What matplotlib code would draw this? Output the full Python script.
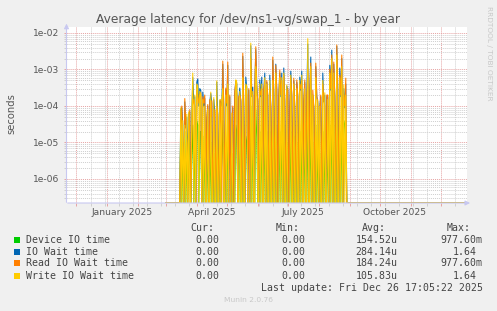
import numpy as np
import matplotlib
matplotlib.use('Agg')
import matplotlib.pyplot as plt
from matplotlib.patches import Rectangle

W, H = 497, 311

# daily averages in seconds, 16 Mar 2025 .. 29 Aug 2025 (0 = idle day)
device = [3e-5, 0, 1e-5, 0, 2e-5, 0, 8e-6, 0, 2.5e-5, 4e-6,
          0, 5e-6, 3e-5, 0, 2e-5, 0, 4e-5, 3e-5, 0, 2e-5,
          2e-5, 0, 1.5e-5, 0, 1e-5, 0, 0, 8e-6, 0, 0,
          1e-5, 0, 0, 5e-6, 0, 0, 2e-5, 0, 0, 8e-6,
          0, 5e-6, 4e-5, 0, 0, 1e-5, 0, 3e-5, 0, 0,
          0, 5e-6, 0, 0, 0, 3e-5, 2e-5, 0, 0, 4e-5,
          0, 0, 5e-5, 0, 0, 1.5e-5, 1e-5, 0, 0, 0,
          1e-4, 0, 2e-5, 0, 0, 8e-5, 1.5e-5, 0, 0, 2e-5,
          0, 2e-5, 0, 0, 3e-5, 0, 2e-5, 0, 0, 2e-5,
          0, 0, 4e-5, 0, 0, 3e-5, 0, 0, 0, 2e-5,
          0, 3e-5, 0, 3e-5, 0, 0, 1e-5, 0, 0, 0,
          2e-5, 0, 0, 1.5e-5, 0, 0, 1e-5, 0, 0, 2e-5,
          0, 2e-5, 0, 0, 1.5e-5, 0, 0, 3e-5, 0, 0,
          4e-5, 0, 1e-5, 0, 0, 3e-5, 0, 1e-5, 0, 5e-6,
          0, 0, 2e-5, 0, 1e-5, 0, 0, 1e-5, 0, 3e-5,
          0, 6e-5, 0, 3e-5, 0, 0, 8e-5, 0, 0, 2e-5,
          0, 5e-5, 0, 4e-5, 3e-5, 1e-5, 0]
iowait = [8e-5, 9e-5, 3e-5, 0, 1.3e-4, 2.5e-5, 5e-5, 3e-6, 6e-5, 7e-5,
          0, 5e-5, 6e-4, 1.3e-4, 1.8e-4, 0, 4.5e-4, 5.5e-4, 1e-4, 3e-4,
          2.7e-4, 0, 2.4e-4, 1e-4, 1.6e-4, 0, 4e-5, 1e-4, 0, 1.3e-4,
          2.2e-4, 1.2e-4, 0, 1.5e-4, 7e-5, 0, 4.5e-4, 5e-5, 0, 1.4e-4,
          1.3e-4, 1e-4, 1.4e-3, 9e-5, 0, 2.8e-4, 1e-4, 1.3e-3, 0, 1.8e-4,
          0, 4e-5, 9e-5, 0, 2.2e-4, 5e-4, 4e-4, 0, 1.6e-4, 3.1e-4,
          1.3e-4, 0, 2.3e-3, 9e-5, 0, 6.2e-4, 3e-4, 0, 2.7e-4, 0,
          4.5e-3, 1.8e-4, 3.3e-4, 0, 2.7e-4, 3.5e-3, 3.8e-4, 1.3e-4, 0, 5.2e-4,
          1.8e-4, 6.2e-4, 0, 2.7e-4, 8e-4, 0, 4.5e-4, 1.8e-4, 0, 7e-4,
          9e-5, 0, 1.8e-3, 2.2e-4, 0, 1.4e-3, 2.7e-4, 0, 1.8e-4, 8e-4,
          1.8e-4, 8e-4, 0, 1.1e-3, 1.3e-4, 0, 3.5e-4, 2.7e-4, 0, 9e-5,
          9e-4, 1.8e-4, 0, 5e-4, 9e-5, 0, 4.5e-4, 1.8e-4, 0, 6.2e-4,
          2.7e-4, 9e-4, 0, 1.3e-4, 4.5e-4, 0, 1.8e-4, 5e-3, 0, 2.7e-4,
          2.2e-3, 0, 2e-4, 9e-5, 0, 1.2e-3, 1.8e-4, 1.3e-4, 0, 9e-5,
          1.8e-4, 0, 8e-4, 1.3e-4, 2e-4, 0, 1.8e-4, 1.8e-4, 0, 1.3e-3,
          2.7e-4, 3.4e-3, 0, 1.4e-3, 1.8e-4, 0, 4.3e-3, 2.7e-4, 0, 1.1e-3,
          1.8e-4, 2e-3, 0, 3e-4, 9e-5, 4e-4, 0]
read = [2e-5, 1e-4, 1e-5, 0, 1.6e-4, 3e-5, 1e-5, 0, 2e-5, 8e-5,
        0, 1e-5, 1e-4, 1.5e-4, 1e-4, 0, 3e-4, 2e-4, 1.2e-4, 2e-4,
        2.3e-4, 0, 1.8e-4, 1.2e-4, 2e-4, 0, 5e-5, 1.1e-4, 0, 1.5e-4,
        5e-5, 1.4e-4, 0, 2e-5, 8e-5, 0, 1e-4, 6e-5, 0, 3e-5,
        1.5e-4, 0, 1.7e-3, 1e-4, 0, 3.1e-4, 1.2e-4, 1.6e-3, 0, 2e-4,
        0, 2e-5, 1e-4, 0, 2.5e-4, 4.5e-4, 2e-4, 0, 1.8e-4, 2e-4,
        1.5e-4, 0, 2.8e-3, 1e-4, 0, 3e-4, 2e-4, 0, 3e-4, 0,
        2e-3, 2e-4, 2e-4, 0, 3e-4, 4.2e-3, 2.5e-4, 1.5e-4, 0, 3e-4,
        2e-4, 3e-4, 0, 3e-4, 5e-4, 0, 5e-4, 2e-4, 0, 3e-4,
        1e-4, 0, 2.2e-3, 2.5e-4, 0, 1.3e-3, 3e-4, 0, 2e-4, 9.7e-4,
        2e-4, 5e-4, 0, 7e-4, 1.5e-4, 0, 2e-4, 3e-4, 0, 1e-4,
        6e-4, 2e-4, 0, 5.8e-4, 1e-4, 0, 5.2e-4, 2e-4, 0, 4e-4,
        3e-4, 5e-4, 0, 1.5e-4, 5.2e-4, 0, 2e-4, 1e-3, 0, 3e-4,
        1.5e-3, 0, 2.7e-4, 1e-4, 0, 1.5e-3, 2e-4, 1e-4, 0, 6e-5,
        2e-4, 0, 4e-4, 1.5e-4, 1e-4, 0, 2e-4, 2e-4, 0, 1e-3,
        3e-4, 2.5e-3, 0, 1.6e-3, 2e-4, 0, 4.7e-3, 3e-4, 0, 7e-4,
        2e-4, 2.5e-3, 0, 2e-4, 1e-4, 5.8e-4, 0]
write = [9e-5, 0, 4e-5, 0, 3e-5, 0, 6e-5, 0, 7e-5, 0,
         0, 6e-5, 8e-4, 0, 2e-4, 0, 4e-4, 3.5e-4, 0, 2.5e-4,
         2e-4, 0, 1.5e-4, 0, 1e-4, 0, 0, 8e-5, 0, 0,
         2.4e-4, 0, 0, 1.7e-4, 0, 0, 4.9e-4, 0, 0, 1.5e-4,
         0, 1.5e-4, 3e-4, 0, 0, 2e-4, 0, 4e-4, 0, 0,
         0, 6.4e-5, 0, 0, 0, 5.2e-4, 4.5e-4, 0, 0, 2.5e-4,
         0, 0, 6e-4, 0, 0, 4e-4, 3.5e-4, 0, 0, 0,
         5.3e-3, 0, 2.5e-4, 0, 0, 1.2e-3, 3e-4, 0, 0, 4e-4,
         0, 4e-4, 0, 0, 6e-4, 0, 4e-4, 0, 0, 5e-4,
         0, 0, 5e-4, 0, 0, 8e-4, 0, 0, 0, 6e-4,
         0, 6e-4, 0, 8e-4, 0, 0, 3.8e-4, 0, 0, 0,
         7e-4, 0, 0, 4e-4, 0, 0, 3e-4, 0, 0, 5e-4,
         0, 7e-4, 0, 0, 3e-4, 0, 0, 7e-3, 0, 0,
         1.2e-3, 0, 2e-4, 0, 0, 6e-4, 0, 1.5e-4, 0, 1e-4,
         0, 0, 5e-4, 0, 2.3e-4, 0, 0, 1.5e-4, 0, 8e-4,
         0, 2e-3, 0, 8e-4, 0, 0, 2.5e-3, 0, 0, 6e-4,
         0, 1.2e-3, 0, 3.8e-4, 0, 2e-4, 0]

labels = ['Device IO time', 'IO Wait time', 'Read IO Wait time', 'Write IO Wait time']
colors = ['#00cc00', '#0066b3', '#ff8000', '#ffcc00']
cur = ['0.00', '0.00', '0.00', '0.00']
mins = ['0.00', '0.00', '0.00', '0.00']
avgs = ['154.52u', '284.14u', '184.24u', '105.83u']
maxs = ['977.60m', '1.64', '977.60m', '1.64']

first_rec = np.datetime64('2025-03-01')
data_start = np.datetime64('2025-03-16')
last_day = np.datetime64('2025-12-26')
x0 = np.datetime64('2024-11-21T17:05:22')
x1 = np.datetime64('2025-12-26T17:05:22')
ymin, ymax = 2.2e-7, 1.46e-2

days = np.arange(first_rec, last_day + 1)
off = int((data_start - first_rec).astype(int))

fig = plt.figure(figsize=(W / 100, H / 100), dpi=100, facecolor='#f0f0f0')
ax = fig.add_axes([66.5 / W, 1 - 203 / H, 400 / W, 176 / H])
ax.set_facecolor('white')

for vals, c in zip([device, iowait, read, write], colors):
    full = np.zeros(len(days))
    full[off:off + len(vals)] = vals
    ax.plot(days, np.maximum(full, ymin), color=c, lw=0.75, zorder=3)

ax.set_yscale('log')
ax.set_ylim(ymin, ymax)
ax.set_xlim(x0, x1)

major_col = '#e6a3a3'
minor_col = '#cfcfcf'
dots = (0, (1, 1))

yt = [1e-6, 1e-5, 1e-4, 1e-3, 1e-2]
ax.set_yticks(yt)
ax.set_yticklabels(['1e-%02d' % (-int(np.log10(v))) for v in yt])
ax.yaxis.set_minor_locator(matplotlib.ticker.LogLocator(subs=np.arange(2, 10)))
ax.yaxis.set_minor_formatter(matplotlib.ticker.NullFormatter())

months = np.arange(np.datetime64('2024-12'), np.datetime64('2026-01')).astype('datetime64[D]')
ax.set_xticks(months)
ax.set_xticklabels([])
weeks = np.arange(np.datetime64('2024-12-16'), x1, np.timedelta64(14, 'D'))
ax.set_xticks(weeks, minor=True)

ax.grid(which='major', color=major_col, linestyle=dots, lw=0.7, zorder=1)
ax.grid(which='minor', color=minor_col, linestyle=dots, lw=0.7, zorder=1)
ax.set_axisbelow(True)
ax.tick_params(which='major', color=major_col, length=2, width=0.7, labelsize=6.6,
               labelcolor='#555555', pad=3)
ax.tick_params(which='minor', color=minor_col, length=2, width=0.7)

for m in ['2025-01', '2025-04', '2025-07', '2025-10']:
    t = np.datetime64(m).astype('datetime64[D]') + 15
    ax.text(t, -0.055, np.datetime64(m, 'M').astype(object).strftime('%B %Y'),
            transform=ax.get_xaxis_transform(), ha='center', va='center',
            fontsize=6.6, color='#555555')

for s in ax.spines.values():
    s.set_visible(False)
axcol = '#c8c8f0'
ax.annotate('', xy=(0, 1.035), xytext=(0, -0.012), xycoords='axes fraction',
            arrowprops=dict(arrowstyle='-|>', color=axcol, lw=0.8, mutation_scale=7))
ax.annotate('', xy=(1.016, 0), xytext=(-0.004, 0), xycoords='axes fraction',
            arrowprops=dict(arrowstyle='-|>', color=axcol, lw=0.8, mutation_scale=7))


def ft(x, y, s, **kw):
    fig.text(x / W, 1 - y / H, s, **kw)


ft(248.5, 19.5, 'Average latency for /dev/ns1-vg/swap_1 - by year', ha='center', va='center',
   fontsize=8.8, color='#555555')
ft(11, 114, 'seconds', rotation=90, ha='center', va='center', fontsize=7.2, color='#555555')
ft(488.5, 53, 'RRDTOOL / TOBI OETIKER', rotation=270, ha='center', va='center',
   fontsize=5.3, color='#c8c8c8')

mono = dict(family='DejaVu Sans Mono', fontsize=7.1, color='#444444', va='center')
ft(190, 228.3, 'Cur:', ha='left', **mono)
ft(276, 228.3, 'Min:', ha='left', **mono)
ft(361.7, 228.3, 'Avg:', ha='left', **mono)
ft(446.7, 228.3, 'Max:', ha='left', **mono)
rows = [240, 251.7, 263.3, 275.7]
for i, y in enumerate(rows):
    fig.add_artist(Rectangle((14 / W, 1 - (y + 3) / H), 6 / W, 6 / H,
                             transform=fig.transFigure, color=colors[i], lw=0))
    ft(26, y, labels[i], ha='left', **mono)
    ft(219.3, y, cur[i], ha='right', **mono)
    ft(305, y, mins[i], ha='right', **mono)
    ft(397.3, y, avgs[i], ha='right', **mono)
    ft(482.7 if maxs[i].endswith('m') else 476.7, y, maxs[i], ha='right', **mono)
ft(482.7, 287.7, 'Last update: Fri Dec 26 17:05:22 2025', ha='right', **mono)
ft(248, 300, 'Munin 2.0.76', ha='center', va='center', fontsize=5.4, color='#c8c8c8')

fig.savefig('out.png', dpi=100, facecolor=fig.get_facecolor())
